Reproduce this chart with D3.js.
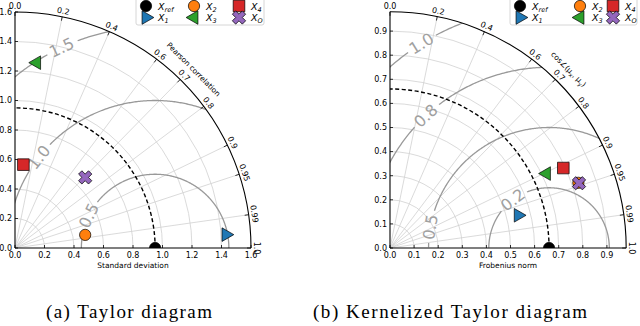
<!DOCTYPE html>
<html>
<head>
<meta charset="utf-8">
<script src="https://cdn.jsdelivr.net/npm/d3@7"></script>
<style>
  body { margin: 0; background: #fff; }
  svg text { font-family: "DejaVu Sans", sans-serif; }
</style>
</head>
<body>
<div id="root"></div>
<script>
const width = 640;
const height = 326;

// shared between both diagrams
const corrTicks = [0, 0.2, 0.4, 0.6, 0.7, 0.8, 0.9, 0.95, 0.99, 1.0];
const seriesNames = ["ref", "1", "2", "3", "4", "O"];
const seriesColors = ["#000000", "#1f77b4", "#ff7f0e", "#2ca02c", "#d62728", "#9467bd"];
const seriesShapes = ["circle", "triRight", "circle", "triLeft", "square", "x"];

// (a) Taylor diagram
const stdTicks = [0, 0.2, 0.4, 0.6, 0.8, 1.0, 1.2, 1.4, 1.6];
const taylorStd = [0.95, 1.433, 0.484, 1.265, 0.568, 0.675];
const taylorCorr = [1.0, 0.998, 0.983, 0.116, 0.10, 0.705];
const taylorRmsLevels = [0.5, 1.0, 1.5];
const taylorRmsLabels = ["0.5", "1.0", "1.5"];
const taylorRmsLabelAngle = [154, 142, 115];

// (b) Kernelized Taylor diagram
const normTicks = [0, 0.1, 0.2, 0.3, 0.4, 0.5, 0.6, 0.7, 0.8, 0.9];
const kernelNorm = [0.66, 0.549, 0.827, 0.719, 0.792, 0.829];
const kernelCos = [1.0, 0.969, 0.945, 0.903, 0.908, 0.946];
const kernelRmsLevels = [0.25, 0.5, 0.75, 1.0];
const kernelRmsLabels = ["0.2", "0.5", "0.8", "1.0"];
const kernelRmsLabelAngle = [127, 170, 133, 122];

let svg = d3
  .select("#root")
  .append("svg")
  .attr("width", width)
  .attr("height", height);

function symbolPath(shape) {
  if (shape === "circle") return d3.symbol(d3.symbolCircle, 100)();
  if (shape === "square") return d3.symbol(d3.symbolSquare, 135)();
  if (shape === "x") return d3.symbol(d3.symbolCross, 110)();
  return d3.symbol(d3.symbolTriangle, 80)();
}
function symbolRotate(shape) {
  if (shape === "triRight") return 90;
  if (shape === "triLeft") return -90;
  if (shape === "x") return 45;
  return 0;
}

function drawPanel(cfg, idx) {
  const g = svg.append("g").attr("transform", `translate(${cfg.ox},${cfg.oy})`);
  const r = d3.scaleLinear().domain([0, cfg.rMax]).range([0, cfg.rMax * cfg.scale]);
  const R = r(cfg.rMax);
  const px = (s, t) => r(s) * Math.cos(t);
  const py = (s, t) => -r(s) * Math.sin(t);

  const clipId = "quad" + idx;
  g.append("clipPath")
    .attr("id", clipId)
    .append("path")
    .attr("d", `M0,0L${R},0A${R},${R} 0 0 0 0,${-R}Z`);

  // grid: radial arcs
  cfg.rTicks
    .filter((v) => v > 0 && v < cfg.rMax - 1e-9)
    .forEach((v) => {
      g.append("path")
        .attr("d", `M${r(v)},0A${r(v)},${r(v)} 0 0 0 0,${-r(v)}`)
        .attr("fill", "none")
        .attr("stroke", "#d0d0d0")
        .attr("stroke-width", 0.8);
    });

  // grid: correlation lines
  corrTicks
    .filter((c) => c > 0 && c < 1)
    .forEach((c) => {
      const t = Math.acos(c);
      g.append("line")
        .attr("x1", 0).attr("y1", 0)
        .attr("x2", px(cfg.rMax, t)).attr("y2", py(cfg.rMax, t))
        .attr("stroke", "#d0d0d0")
        .attr("stroke-width", 0.8);
    });

  // RMS contours around the reference
  const refS = cfg.std[0];
  const line = d3.line().x((d) => d[0]).y((d) => d[1]);
  cfg.rmsLevels.forEach((L, i) => {
    const half = (16 / r(L)) * 180 / Math.PI;
    const a0 = cfg.rmsAngles[i] - half;
    const a1 = cfg.rmsAngles[i] + half;
    const pts = (from, to) =>
      d3.range(from, to + 0.001, 0.5).map((phi) => {
        const p = (phi * Math.PI) / 180;
        return [r(refS + L * Math.cos(p)), -r(L * Math.sin(p))];
      });
    [pts(0, a0), pts(a1, 180)].forEach((seg) => {
      g.append("path")
        .attr("d", line(seg))
        .attr("fill", "none")
        .attr("stroke", "#999")
        .attr("stroke-width", 1.3)
        .attr("clip-path", `url(#${clipId})`);
    });
    const p = (cfg.rmsAngles[i] * Math.PI) / 180;
    g.append("text")
      .attr("transform",
        `translate(${r(refS + L * Math.cos(p))},${-r(L * Math.sin(p))}) rotate(${90 - cfg.rmsAngles[i]})`)
      .attr("text-anchor", "middle")
      .attr("dy", "0.35em")
      .attr("fill", "#a0a0a0")
      .style("font-size", "16px")
      .text(cfg.rmsLabels[i]);
  });

  // reference dashed arc
  g.append("path")
    .attr("d", `M${r(refS)},0A${r(refS)},${r(refS)} 0 0 0 0,${-r(refS)}`)
    .attr("fill", "none")
    .attr("stroke", "#000")
    .attr("stroke-width", 1.4)
    .attr("stroke-dasharray", "4,2.5");

  // outer arc and axes
  g.append("path")
    .attr("d", `M${R},0A${R},${R} 0 0 0 0,${-R}`)
    .attr("fill", "none")
    .attr("stroke", "#000")
    .attr("stroke-width", 1.1);
  g.append("line").attr("x1", 0).attr("y1", 0).attr("x2", R).attr("y2", 0)
    .attr("stroke", "#000").attr("stroke-width", 1.1);
  g.append("line").attr("x1", 0).attr("y1", 0).attr("x2", 0).attr("y2", -R)
    .attr("stroke", "#000").attr("stroke-width", 1.1);

  // radial axis ticks and labels
  cfg.rTicks.forEach((v) => {
    g.append("line").attr("x1", r(v)).attr("x2", r(v)).attr("y1", 0).attr("y2", -3)
      .attr("stroke", "#000").attr("stroke-width", 0.8);
    g.append("line").attr("x1", 0).attr("x2", 3).attr("y1", -r(v)).attr("y2", -r(v))
      .attr("stroke", "#000").attr("stroke-width", 0.8);
    g.append("text")
      .attr("x", r(v)).attr("y", 10)
      .attr("text-anchor", "middle")
      .style("font-size", "8px")
      .text(v.toFixed(1));
    g.append("text")
      .attr("x", -3).attr("y", -r(v))
      .attr("dy", "0.35em")
      .attr("text-anchor", "end")
      .style("font-size", "8px")
      .text(v.toFixed(1));
  });

  // correlation ticks on the outer arc
  corrTicks.forEach((c) => {
    const t = Math.acos(c);
    g.append("line")
      .attr("x1", px(cfg.rMax, t)).attr("y1", py(cfg.rMax, t))
      .attr("x2", (R - 4) * Math.cos(t)).attr("y2", -(R - 4) * Math.sin(t))
      .attr("stroke", "#000").attr("stroke-width", 0.8);
    g.append("text")
      .attr("transform",
        `translate(${(R + 3) * Math.cos(t)},${-(R + 3) * Math.sin(t)}) rotate(${90 - (t * 180) / Math.PI})`)
      .attr("text-anchor", "middle")
      .style("font-size", "8px")
      .text(c === 0 || c === 1 ? c.toFixed(1) : String(c));
  });

  // angular axis title
  const ta = Math.PI / 4;
  const angT = g.append("text")
    .attr("transform", `translate(${(R + 14) * Math.cos(ta)},${-(R + 14) * Math.sin(ta)}) rotate(45)`)
    .attr("text-anchor", "middle")
    .style("font-size", "7.5px");
  cfg.angLabel(angT);

  // radial axis title
  g.append("text")
    .attr("x", R / 2).attr("y", 20)
    .attr("text-anchor", "middle")
    .style("font-size", "7.5px")
    .text(cfg.xlabel);

  // markers
  const mk = g.append("g").attr("clip-path", `url(#${clipId})`);
  cfg.std.forEach((s, i) => {
    const t = Math.acos(cfg.corr[i]);
    mk.append("path")
      .attr("d", symbolPath(seriesShapes[i]))
      .attr("transform", `translate(${px(s, t)},${py(s, t)}) rotate(${symbolRotate(seriesShapes[i])})`)
      .attr("fill", seriesColors[i])
      .attr("stroke", "#000")
      .attr("stroke-width", 0.7);
  });

  // legend
  const lg = svg.append("g").attr("transform", `translate(${cfg.legend.x},0)`);
  lg.append("rect")
    .attr("x", 0).attr("y", -2)
    .attr("width", cfg.legend.w).attr("height", 27)
    .attr("rx", 2)
    .attr("fill", "#fff")
    .attr("stroke", "#ccc")
    .attr("stroke-width", 0.8);
  seriesNames.forEach((name, i) => {
    const cx = cfg.legend.cols[Math.floor(i / 2)];
    const cy = i % 2 === 0 ? 6 : 17.5;
    lg.append("path")
      .attr("d", symbolPath(seriesShapes[i]))
      .attr("transform", `translate(${cx},${cy}) rotate(${symbolRotate(seriesShapes[i])})`)
      .attr("fill", seriesColors[i])
      .attr("stroke", "#000")
      .attr("stroke-width", 0.7);
    const tx = lg.append("text")
      .attr("x", cx + 12).attr("y", cy + 3.5)
      .style("font-size", "9.5px")
      .style("font-style", "italic");
    tx.append("tspan").text("X");
    tx.append("tspan")
      .attr("dy", 2)
      .style("font-size", "6.5px")
      .text(name);
  });

  // caption
  svg.append("text")
    .attr("x", cfg.captionX).attr("y", 318)
    .attr("text-anchor", "middle")
    .attr("textLength", cfg.captionW)
    .attr("lengthAdjust", "spacing")
    .style("font-family", "'Liberation Serif', 'DejaVu Serif', serif")
    .style("font-size", "19px")
    .text(cfg.caption);
}

drawPanel({
  ox: 15, oy: 248, scale: 147.5, rMax: 1.6,
  rTicks: stdTicks,
  std: taylorStd, corr: taylorCorr,
  rmsLevels: taylorRmsLevels, rmsLabels: taylorRmsLabels, rmsAngles: taylorRmsLabelAngle,
  xlabel: "Standard deviation",
  angLabel: (t) => t.text("Pearson correlation"),
  legend: { x: 136, w: 128, cols: [10, 58, 103] },
  caption: "(a) Taylor diagram", captionX: 129, captionW: 166
}, 0);

drawPanel({
  ox: 390, oy: 248, scale: 241, rMax: 0.98,
  rTicks: normTicks,
  std: kernelNorm, corr: kernelCos,
  rmsLevels: kernelRmsLevels, rmsLabels: kernelRmsLabels, rmsAngles: kernelRmsLabelAngle,
  xlabel: "Frobenius norm",
  angLabel: (t) => {
    t.append("tspan").text("cos\u2220(\u03bc");
    t.append("tspan").attr("dy", 2).style("font-size", "5.5px").text("x");
    t.append("tspan").attr("dy", -2).text(", \u03bc");
    t.append("tspan").attr("dy", 2).style("font-size", "5.5px").text("y");
    t.append("tspan").attr("dy", -2).text(")");
  },
  legend: { x: 510, w: 127, cols: [10, 70, 103] },
  caption: "(b) Kernelized Taylor diagram", captionX: 450, captionW: 274
}, 1);
</script>
</body>
</html>
